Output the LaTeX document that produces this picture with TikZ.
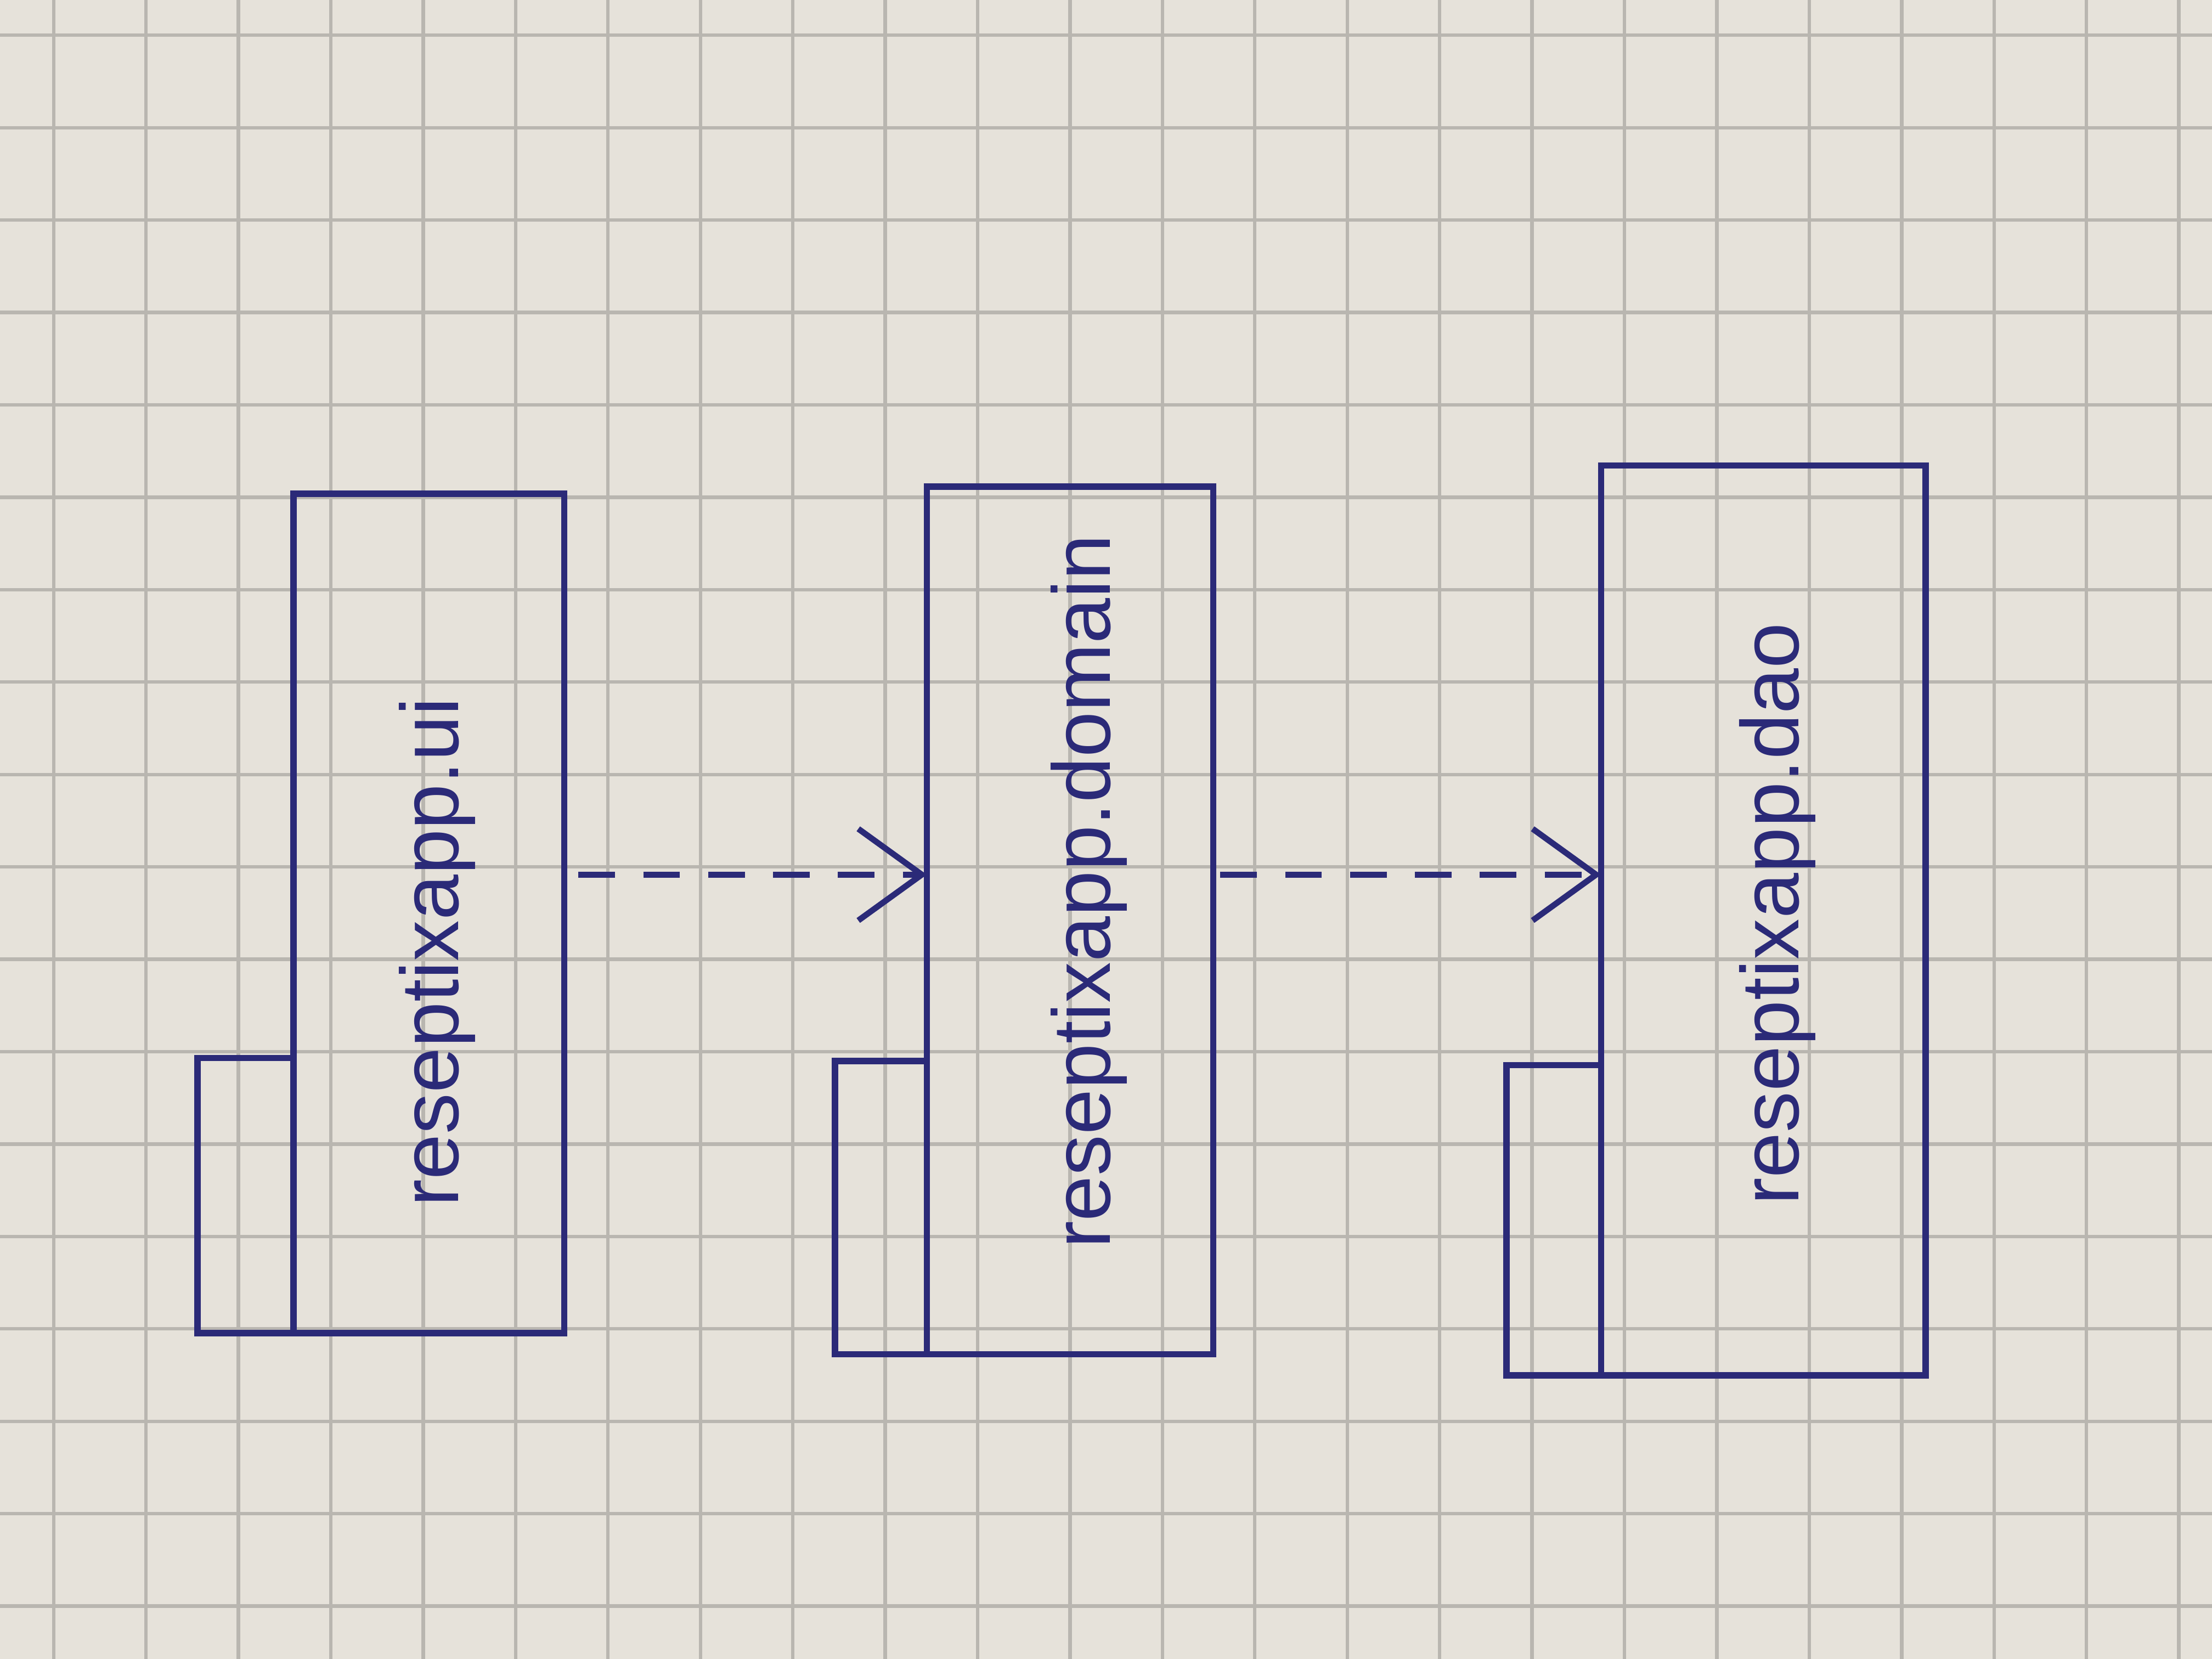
\documentclass[tikz,border=0pt]{standalone}
\usepackage{fontspec}
\setmainfont{Liberation Sans}
\usetikzlibrary{arrows.meta,positioning,calc}
\definecolor{ink}{HTML}{2B2A78}
\definecolor{paper}{HTML}{E6E2DA}
\definecolor{gridc}{HTML}{B9B6B0}
\begin{document}
\begin{tikzpicture}[
  pkg/.style={draw=ink, line width=1.3pt, rectangle, inner sep=0pt, outer sep=0pt},
  lbl/.style={text=ink, rotate=90, font=\fontsize{16.5}{18}\selectfont},
  dep/.style={draw=ink, line width=1.2pt, dash pattern=on 0.26cm off 0.2cm,
              -{Straight Barb[length=4.5mm, width=6.5mm, line width=1.2pt]}}
]
\useasboundingbox (0,0) rectangle (15.68,-11.76);
\fill[paper] (0,0) rectangle (15.68,-11.76);
\begin{scope}
\clip (0,0) rectangle (15.68,-11.76);
\draw[gridc, line width=0.7pt, xshift=0.38cm, yshift=-0.25cm] (-1,1) grid[step=0.655] (17,-13);
\end{scope}

% ui package
\node[pkg, minimum width=1.92cm, minimum height=5.95cm] (ui) at (3.04,-6.475) {};
\node[pkg, minimum width=0.68cm, minimum height=1.95cm, anchor=south east] (uitab) at (ui.south west) {};
\node[lbl] (uilbl) at (3.1,-6.75) {reseptixapp.ui};

% domain package
\node[pkg, minimum width=2.03cm, minimum height=6.15cm] (dom) at (7.585,-6.525) {};
\node[pkg, minimum width=0.65cm, minimum height=2.08cm, anchor=south east] (domtab) at (dom.south west) {};
\node[lbl] (domlbl) at (7.72,-6.32) {reseptixapp.domain};

% dao package
\node[pkg, minimum width=2.3cm, minimum height=6.45cm] (dao) at (12.5,-6.525) {};
\node[pkg, minimum width=0.67cm, minimum height=2.2cm, anchor=south east] (daotab) at (dao.south west) {};
\node[lbl] (daolbl) at (12.6,-6.48) {reseptixapp.dao};

% dependencies
\coordinate (ay) at (0,-6.2);
\draw[dep] ($(ui.east |- ay)+(0.1,0)$) -- (dom.west |- ay);
\draw[dep] ($(dom.east |- ay)+(0.05,0)$) -- (dao.west |- ay);
\end{tikzpicture}
\end{document}
